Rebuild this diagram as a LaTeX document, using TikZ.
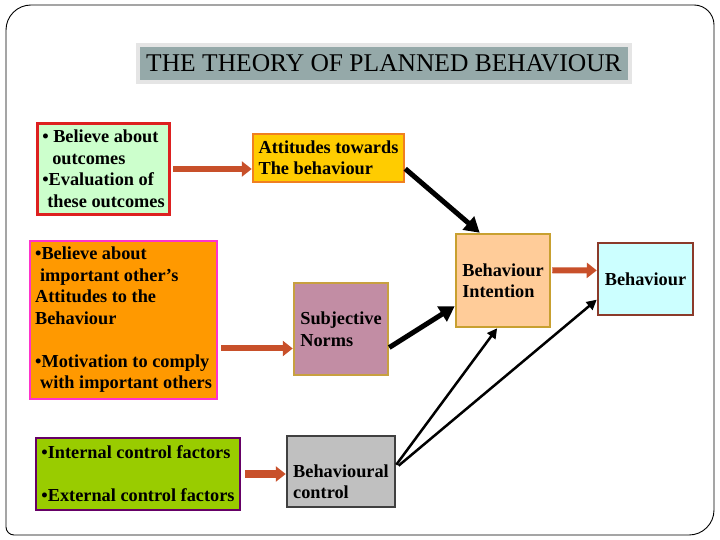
\documentclass[tikz,border=0pt]{standalone}
\usepackage{fontspec}
\setmainfont{Liberation Serif}
\usetikzlibrary{arrows.meta}
\definecolor{ttl}{HTML}{95A9A9}
\definecolor{blk}{HTML}{C8502A}
\definecolor{bonered}{HTML}{DD2020}
\definecolor{bonefill}{HTML}{CCFFCC}
\definecolor{attline}{HTML}{F08020}
\definecolor{attfill}{HTML}{FFCC00}
\definecolor{btwoline}{HTML}{FF33CC}
\definecolor{btwofill}{HTML}{FF9900}
\definecolor{snline}{HTML}{C8A040}
\definecolor{snfill}{HTML}{C28DA4}
\definecolor{bthreeline}{HTML}{660066}
\definecolor{bthreefill}{HTML}{99CC00}
\definecolor{pbcline}{HTML}{404040}
\definecolor{pbcfill}{HTML}{C0C0C0}
\definecolor{biline}{HTML}{C8A030}
\definecolor{bifill}{HTML}{FFCC99}
\definecolor{behline}{HTML}{8B3A2A}
\definecolor{behfill}{HTML}{CCFFFF}
\begin{document}
\begin{tikzpicture}[x=1pt, y=-1pt,
  box/.style={draw, line width=2.5pt, align=left, inner sep=0pt, font=\fontsize{18.3}{21.5}\selectfont\bfseries},
  feed/.style={blk, line width=6pt, -{Triangle[length=10pt,width=15pt]}},
  heavy/.style={black, line width=5pt, -{Triangle[length=15pt,width=17pt]}},
  light/.style={black, line width=2.5pt, -{Triangle[length=10pt,width=10pt]}}]
\useasboundingbox (0,0) rectangle (720,540);
\draw[line width=.9pt] (6,270) [rounded corners=25pt] -- (6,5) -- (360,5) [rounded corners=20pt] -- (714,5) -- (714,270) [rounded corners=25pt] -- (714,535) -- (360,535) [rounded corners=8pt] -- (6,535) -- cycle;
\node[draw=black!10, line width=4pt, fill=ttl, minimum width=492pt, minimum height=37pt, font=\fontsize{25.5}{30}\selectfont] (ttl) at (384,63.5) {THE THEORY OF PLANNED BEHAVIOUR};
\node[box, draw=bonered, line width=3pt, fill=bonefill, minimum width=132pt, minimum height=91pt] (b1) at (103.5,169) {• Believe about\\\hspace*{10pt}outcomes\\•Evaluation of\\\hspace*{5pt}these outcomes};
\node[box, draw=attline, fill=attfill, minimum width=151pt, minimum height=48pt] (att) at (328.5,158) {Attitudes towards\\The behaviour};
\node[box, draw=btwoline, fill=btwofill, minimum width=187pt, minimum height=158pt] (b2) at (123.5,320) {•Believe about\\\hspace*{5pt}important other’s\\Attitudes to the\\Behaviour\\[21.5pt]•Motivation to comply\\\hspace*{5pt}with important others};
\node[box, draw=snline, fill=snfill, minimum width=94pt, minimum height=92pt] (sn) at (341,329) {Subjective\\Norms};
\node[box, draw=bthreeline, fill=bthreefill, minimum width=204pt, minimum height=72pt] (b3) at (138,474) {•Internal control factors\\[21.5pt]•External control factors};
\node[box, draw=pbcline, fill=pbcfill, minimum width=108pt, minimum height=71pt] (pbc) at (341,471.5) {\rule{0pt}{33pt}Behavioural\\control};
\node[box, draw=biline, fill=bifill, minimum width=94pt, minimum height=93pt] (bi) at (503,280.5) {Behaviour\\Intention};
\node[box, draw=behline, fill=behfill, minimum width=95pt, minimum height=72pt] (beh) at (645.5,279) {Behaviour};
\draw[feed, shorten <=2pt] (b1.east) -- (b1.east -| att.west);
\draw[feed, shorten <=3pt] (sn.202 -| b2.east) -- (sn.202);
\draw[feed, shorten <=4pt, line width=8pt] (b3.east) -- (b3.east -| pbc.west);
\draw[feed, shorten <=1pt] (bi.12) -- (beh.170);
\draw[heavy] (att.-8) -- (bi.116);
\draw[heavy] (sn.-21) -- (bi.208);
\draw[light] (pbc.7) -- (bi.263);
\draw[light, shorten <=3pt] (pbc.4) -- (beh.203);
\end{tikzpicture}
\end{document}
